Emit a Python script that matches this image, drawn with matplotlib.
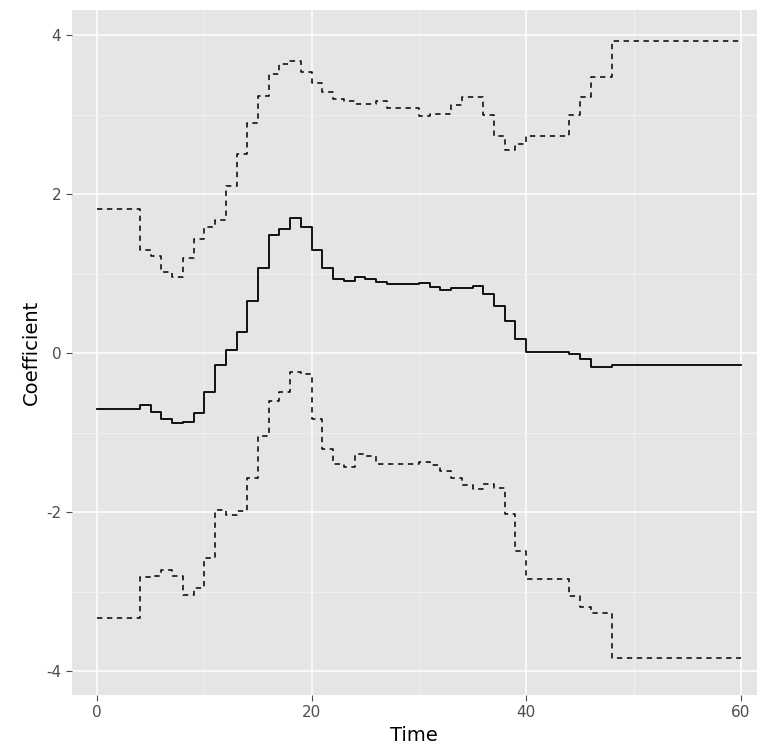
import numpy as np
import matplotlib
matplotlib.use("Agg")
import matplotlib.pyplot as plt

plt.rcParams['axes.unicode_minus'] = False

# step start times (integer grid) and coefficient values
time = list(range(0, 49)) + [60]

coef = [-0.70, -0.70, -0.70, -0.70, -0.65, -0.74, -0.83, -0.88, -0.86, -0.75,
        -0.49, -0.15, 0.04, 0.27, 0.66, 1.07, 1.49, 1.56, 1.70, 1.59,
        1.30, 1.07, 0.94, 0.91, 0.96, 0.94, 0.90, 0.87, 0.87, 0.87,
        0.89, 0.84, 0.80, 0.82, 0.82, 0.85, 0.75, 0.60, 0.41, 0.18,
        0.02, 0.02, 0.02, 0.02, -0.01, -0.07, -0.17, -0.17, -0.15, -0.15]

upper = [1.82, 1.82, 1.82, 1.82, 1.30, 1.23, 1.02, 0.96, 1.20, 1.44,
         1.59, 1.68, 2.11, 2.51, 2.90, 3.24, 3.52, 3.64, 3.68, 3.54,
         3.40, 3.29, 3.20, 3.17, 3.14, 3.14, 3.17, 3.09, 3.09, 3.09,
         2.99, 3.01, 3.01, 3.13, 3.22, 3.22, 3.00, 2.74, 2.56, 2.64,
         2.74, 2.74, 2.74, 2.74, 3.00, 3.22, 3.48, 3.48, 3.93, 3.93]

lower = [-3.33, -3.33, -3.33, -3.33, -2.82, -2.80, -2.73, -2.80, -3.04, -2.95,
         -2.58, -1.97, -2.04, -1.98, -1.57, -1.04, -0.60, -0.49, -0.24, -0.26,
         -0.83, -1.20, -1.39, -1.43, -1.27, -1.29, -1.39, -1.39, -1.39, -1.39,
         -1.37, -1.41, -1.48, -1.57, -1.66, -1.71, -1.64, -1.69, -2.02, -2.49,
         -2.84, -2.84, -2.84, -2.84, -3.05, -3.19, -3.27, -3.27, -3.83, -3.83]

fig = plt.figure(figsize=(7.63, 7.51), dpi=100)
ax = fig.add_axes([0.094, 0.0746, 0.898, 0.912])
ax.set_facecolor('#e5e5e5')
for s in ax.spines.values():
    s.set_visible(False)

ax.set_xlim(-2.36, 61.5)
ax.set_ylim(-4.30, 4.32)
ax.set_xticks([0, 20, 40, 60])
ax.set_yticks([-4, -2, 0, 2, 4])
ax.set_xticks([10, 30, 50], minor=True)
ax.set_yticks([-3, -1, 1, 3], minor=True)
ax.grid(which='major', color='white', linewidth=1.1)
ax.grid(which='minor', color='#f2f2f2', linewidth=0.6)
ax.set_axisbelow(True)
ax.tick_params(which='major', colors='#4d4d4d', labelsize=11, length=4, color='#4d4d4d')
ax.tick_params(which='minor', length=0)

ax.step(time, coef, where='post', color='black', linewidth=1.3)
ax.step(time, upper, where='post', color='black', linewidth=1.1, linestyle=(0, (3.5, 3)))
ax.step(time, lower, where='post', color='black', linewidth=1.1, linestyle=(0, (3.5, 3)))

ax.set_xlabel('Time', fontsize=14)
ax.set_ylabel('Coefficient', fontsize=14)

fig.savefig('out.png', dpi=100)
